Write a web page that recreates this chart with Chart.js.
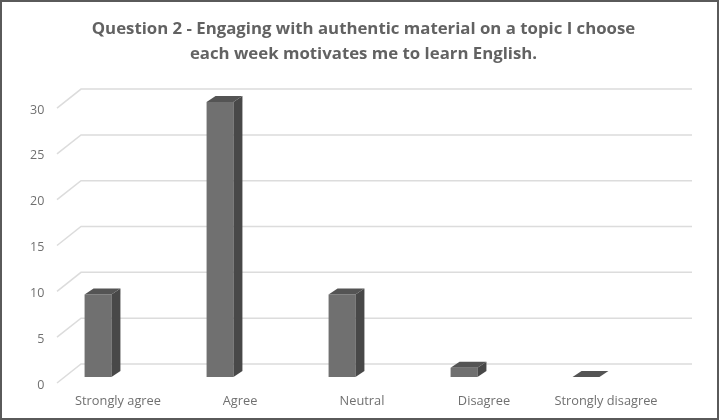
<!DOCTYPE html>
<html>
<head>
<meta charset="utf-8">
<script src="https://cdn.jsdelivr.net/npm/chart.js@4/dist/chart.umd.min.js"></script>
<style>
  html, body { margin: 0; padding: 0; background: #fff; }
  #wrap { width: 719px; height: 420px; position: relative; }
</style>
</head>
<body>
<div id="wrap"><canvas id="chart"></canvas></div>
<script>
const categories = ['Strongly agree', 'Agree', 'Neutral', 'Disagree', 'Strongly disagree'];
const responses = [9, 30, 9, 1, 0];
const titleLines = [
  'Question 2 - Engaging with authentic material on a topic I choose',
  'each week motivates me to learn English.'
];

// fake 3D look like the Excel chart: back wall gridlines + bar side/top faces
const excel3d = {
  id: 'excel3d',
  beforeDraw(chart) {
    const ctx = chart.ctx;
    ctx.save();
    ctx.fillStyle = '#fff';
    ctx.fillRect(0, 0, chart.width, chart.height);
    ctx.restore();
  },
  beforeDatasetsDraw(chart) {
    const { ctx, chartArea, scales } = chart;
    const y = scales.y;
    ctx.save();
    ctx.strokeStyle = '#dcdcdc';
    ctx.lineWidth = 1.5;
    y.ticks.forEach(t => {
      const py = y.getPixelForValue(t.value);
      ctx.beginPath();
      ctx.moveTo(chartArea.left + 20, py + 6);
      ctx.lineTo(chartArea.left + 44, py - 13);
      ctx.lineTo(chartArea.right + 45, py - 13);
      ctx.stroke();
    });
    ctx.restore();
  },
  afterDatasetsDraw(chart) {
    const ctx = chart.ctx;
    const dx = 9, dy = -6;
    ctx.save();
    chart.getDatasetMeta(0).data.forEach(bar => {
      const l = bar.x - bar.width / 2, r = bar.x + bar.width / 2;
      const top = bar.y, base = bar.base;
      // side
      ctx.fillStyle = '#484848';
      ctx.beginPath();
      ctx.moveTo(r, top);
      ctx.lineTo(r + dx, top + dy);
      ctx.lineTo(r + dx, base + dy);
      ctx.lineTo(r, base);
      ctx.closePath();
      ctx.fill();
      // top
      ctx.fillStyle = '#545454';
      ctx.beginPath();
      ctx.moveTo(l, top);
      ctx.lineTo(l + dx, top + dy);
      ctx.lineTo(r + dx, top + dy);
      ctx.lineTo(r, top);
      ctx.closePath();
      ctx.fill();
    });
    ctx.restore();
  },
  afterDraw(chart) {
    const ctx = chart.ctx;
    ctx.save();
    ctx.strokeStyle = '#5a5a5a';
    ctx.lineWidth = 2;
    ctx.strokeRect(1, 1, chart.width - 2, chart.height - 2);
    ctx.restore();
  }
};

new Chart(document.getElementById('chart'), {
  type: 'bar',
  data: {
    labels: categories,
    datasets: [{
      data: responses,
      backgroundColor: '#707070',
      borderWidth: 0,
      categoryPercentage: 1,
      barPercentage: 0.22
    }]
  },
  options: {
    responsive: true,
    maintainAspectRatio: false,
    animation: false,
    events: [],
    layout: { padding: { left: 8, right: 0, top: 0, bottom: 0 } },
    plugins: {
      legend: { display: false },
      tooltip: { enabled: false },
      title: {
        display: true,
        text: titleLines,
        color: '#626262',
        font: { family: 'Open Sans', size: 16.8, weight: 'bold', lineHeight: 1.49 },
        padding: { top: 16.5, bottom: 35.5 }
      }
    },
    scales: {
      x: {
        grid: { display: false, drawTicks: false },
        border: { display: false },
        ticks: {
          color: '#707070',
          font: { family: 'Open Sans', size: 12.8 },
          padding: 17,
          labelOffset: 20,
          maxRotation: 0
        },
        afterFit(s) { s.height = 43; }
      },
      y: {
        min: 0,
        max: 30,
        grid: { display: false, drawTicks: false },
        border: { display: false },
        ticks: {
          stepSize: 5,
          color: '#707070',
          font: { family: 'Open Sans', size: 12.5 },
          mirror: true,
          crossAlign: 'far',
          padding: -7,
          labelOffset: 8
        },
        afterFit(s) { s.width = 29; }
      },
      yRight: {
        position: 'right',
        grid: { display: false, drawTicks: false },
        border: { display: false },
        ticks: { display: false },
        afterFit(s) { s.width = 72; }
      }
    }
  },
  plugins: [excel3d]
});
</script>
</body>
</html>
